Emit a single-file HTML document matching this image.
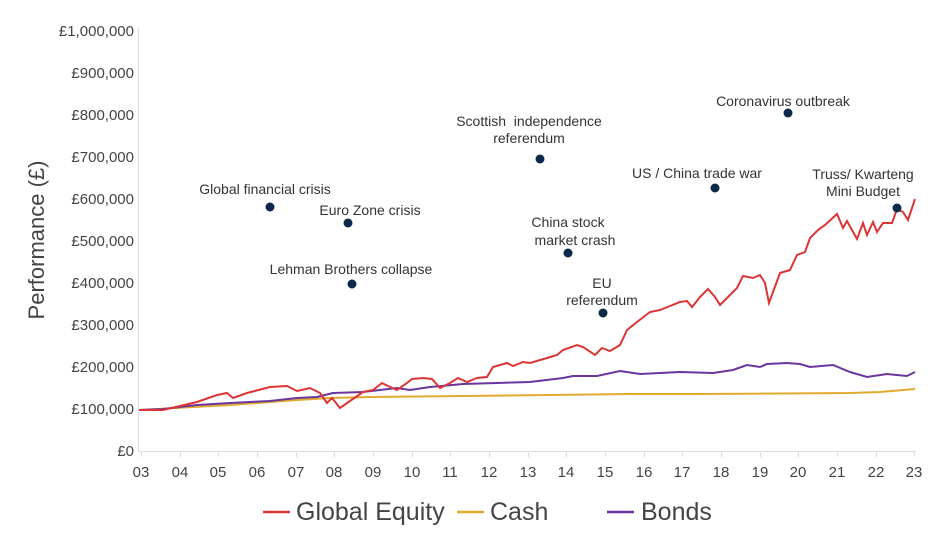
<!DOCTYPE html>
<html><head><meta charset="utf-8"><style>
body{margin:0;background:#fff;}
svg{display:block;font-family:"Liberation Sans",sans-serif;}
</style></head><body>
<svg width="951" height="539" viewBox="0 0 951 539" xmlns="http://www.w3.org/2000/svg">
<g fill="#444" font-size="15" text-anchor="end">
<text x="134" y="36">£1,000,000</text>
<text x="134" y="78">£900,000</text>
<text x="134" y="120">£800,000</text>
<text x="134" y="162">£700,000</text>
<text x="134" y="204">£600,000</text>
<text x="134" y="246">£500,000</text>
<text x="134" y="288">£400,000</text>
<text x="134" y="330">£300,000</text>
<text x="134" y="372">£200,000</text>
<text x="134" y="414">£100,000</text>
<text x="134" y="456">£0</text>
</g>
<text transform="translate(44,240) rotate(-90)" text-anchor="middle" font-size="22" fill="#444">Performance (£)</text>
<line x1="138.5" y1="28" x2="138.5" y2="451" stroke="#ddd"/>
<line x1="138" y1="451.5" x2="916" y2="451.5" stroke="#ddd"/>
<g stroke="#ddd">
<path d="M141.5 451v6M180.5 451v6M218.5 451v6M257.5 451v6M296.5 451v6M334.5 451v6M373.5 451v6M412.5 451v6M450.5 451v6M489.5 451v6M528.5 451v6M566.5 451v6M605.5 451v6M644.5 451v6M682.5 451v6M721.5 451v6M760.5 451v6M798.5 451v6M837.5 451v6M876.5 451v6M914.5 451v6"/>
</g>
<g fill="#444" font-size="15" text-anchor="middle">
<text x="141" y="477">03</text><text x="180" y="477">04</text><text x="218" y="477">05</text><text x="257" y="477">06</text><text x="296" y="477">07</text><text x="334" y="477">08</text><text x="373" y="477">09</text><text x="412" y="477">10</text><text x="450" y="477">11</text><text x="489" y="477">12</text><text x="528" y="477">13</text><text x="566" y="477">14</text><text x="605" y="477">15</text><text x="644" y="477">16</text><text x="682" y="477">17</text><text x="721" y="477">18</text><text x="760" y="477">19</text><text x="798" y="477">20</text><text x="837" y="477">21</text><text x="876" y="477">22</text><text x="914" y="477">23</text>
</g>
<polyline fill="none" stroke="#e0aa2e" stroke-width="2" points="139,410 230,405 297,400 330,398 370,397 463,396 630,394 700,394 850,393 880,392 915,389"/>
<polyline fill="none" stroke="#6b35a0" stroke-width="2" points="139,410 163,409 197,405 230,403 270,401 297,398 317,397 333,393 363,392 397,388 410,390 430,387 463,384 497,383 530,382 563,378 573,376 597,376 620,371 640,374 680,372 713,373 733,370 747,365 760,367 767,364 787,363 800,364 810,367 833,365 850,372 867,377 887,374 907,376 915,372"/>
<polyline fill="none" stroke="#dc3535" stroke-width="2" points="139,410 163,410 197,402 217,395 227,393 233,398 247,393 270,387 287,386 297,391 310,388 320,393 327,403 332,398 340,408 350,401 363,392 373,390 382,383 388,386 397,390 407,383 412,379 423,378 432,379 440,388 450,383 458,378 467,382 477,378 487,377 493,367 507,363 513,366 523,362 530,363 547,358 557,355 563,350 577,345 583,347 595,355 602,348 610,351 620,345 627,330 637,322 650,312 660,310 670,306 680,302 687,301 692,307 700,297 708,289 715,297 720,305 730,295 737,288 743,276 753,278 760,275 765,283 769,303 780,273 790,270 797,255 805,252 810,238 818,230 825,225 837,214 843,228 847,221 857,239 863,223 867,235 873,222 877,232 883,223 892,223 897,209 903,212 908,220 915,199"/>
<g fill="#0b2a4a">
<circle cx="270" cy="207" r="4.5"/><circle cx="348" cy="223" r="4.5"/><circle cx="352" cy="284" r="4.5"/><circle cx="540" cy="159" r="4.5"/><circle cx="568" cy="253" r="4.5"/><circle cx="603" cy="313" r="4.5"/><circle cx="715" cy="188" r="4.5"/><circle cx="788" cy="113" r="4.5"/><circle cx="897" cy="208" r="4.5"/>
</g>
<g fill="#333" font-size="14" text-anchor="middle">
<text x="265" y="194">Global financial crisis</text>
<text x="370" y="215">Euro Zone crisis</text>
<text x="351" y="274">Lehman Brothers collapse</text>
<text x="529" y="126">Scottish&#160; independence</text>
<text x="529" y="143">referendum</text>
<text x="568" y="227">China stock</text>
<text x="575" y="245">market crash</text>
<text x="602" y="288">EU</text>
<text x="602" y="305">referendum</text>
<text x="697" y="178">US / China trade war</text>
<text x="783" y="106">Coronavirus outbreak</text>
<text x="863" y="179">Truss/ Kwarteng</text>
<text x="863" y="196">Mini Budget</text>
</g>
<g stroke-width="2.5">
<line x1="263" y1="512" x2="290" y2="512" stroke="#dc3535"/>
<line x1="457" y1="512" x2="484" y2="512" stroke="#e0aa2e"/>
<line x1="607" y1="512" x2="634" y2="512" stroke="#6b35a0"/>
</g>
<g fill="#444" font-size="25">
<text x="296" y="520">Global Equity</text>
<text x="490" y="520">Cash</text>
<text x="641" y="520">Bonds</text>
</g>
</svg>
</body></html>
